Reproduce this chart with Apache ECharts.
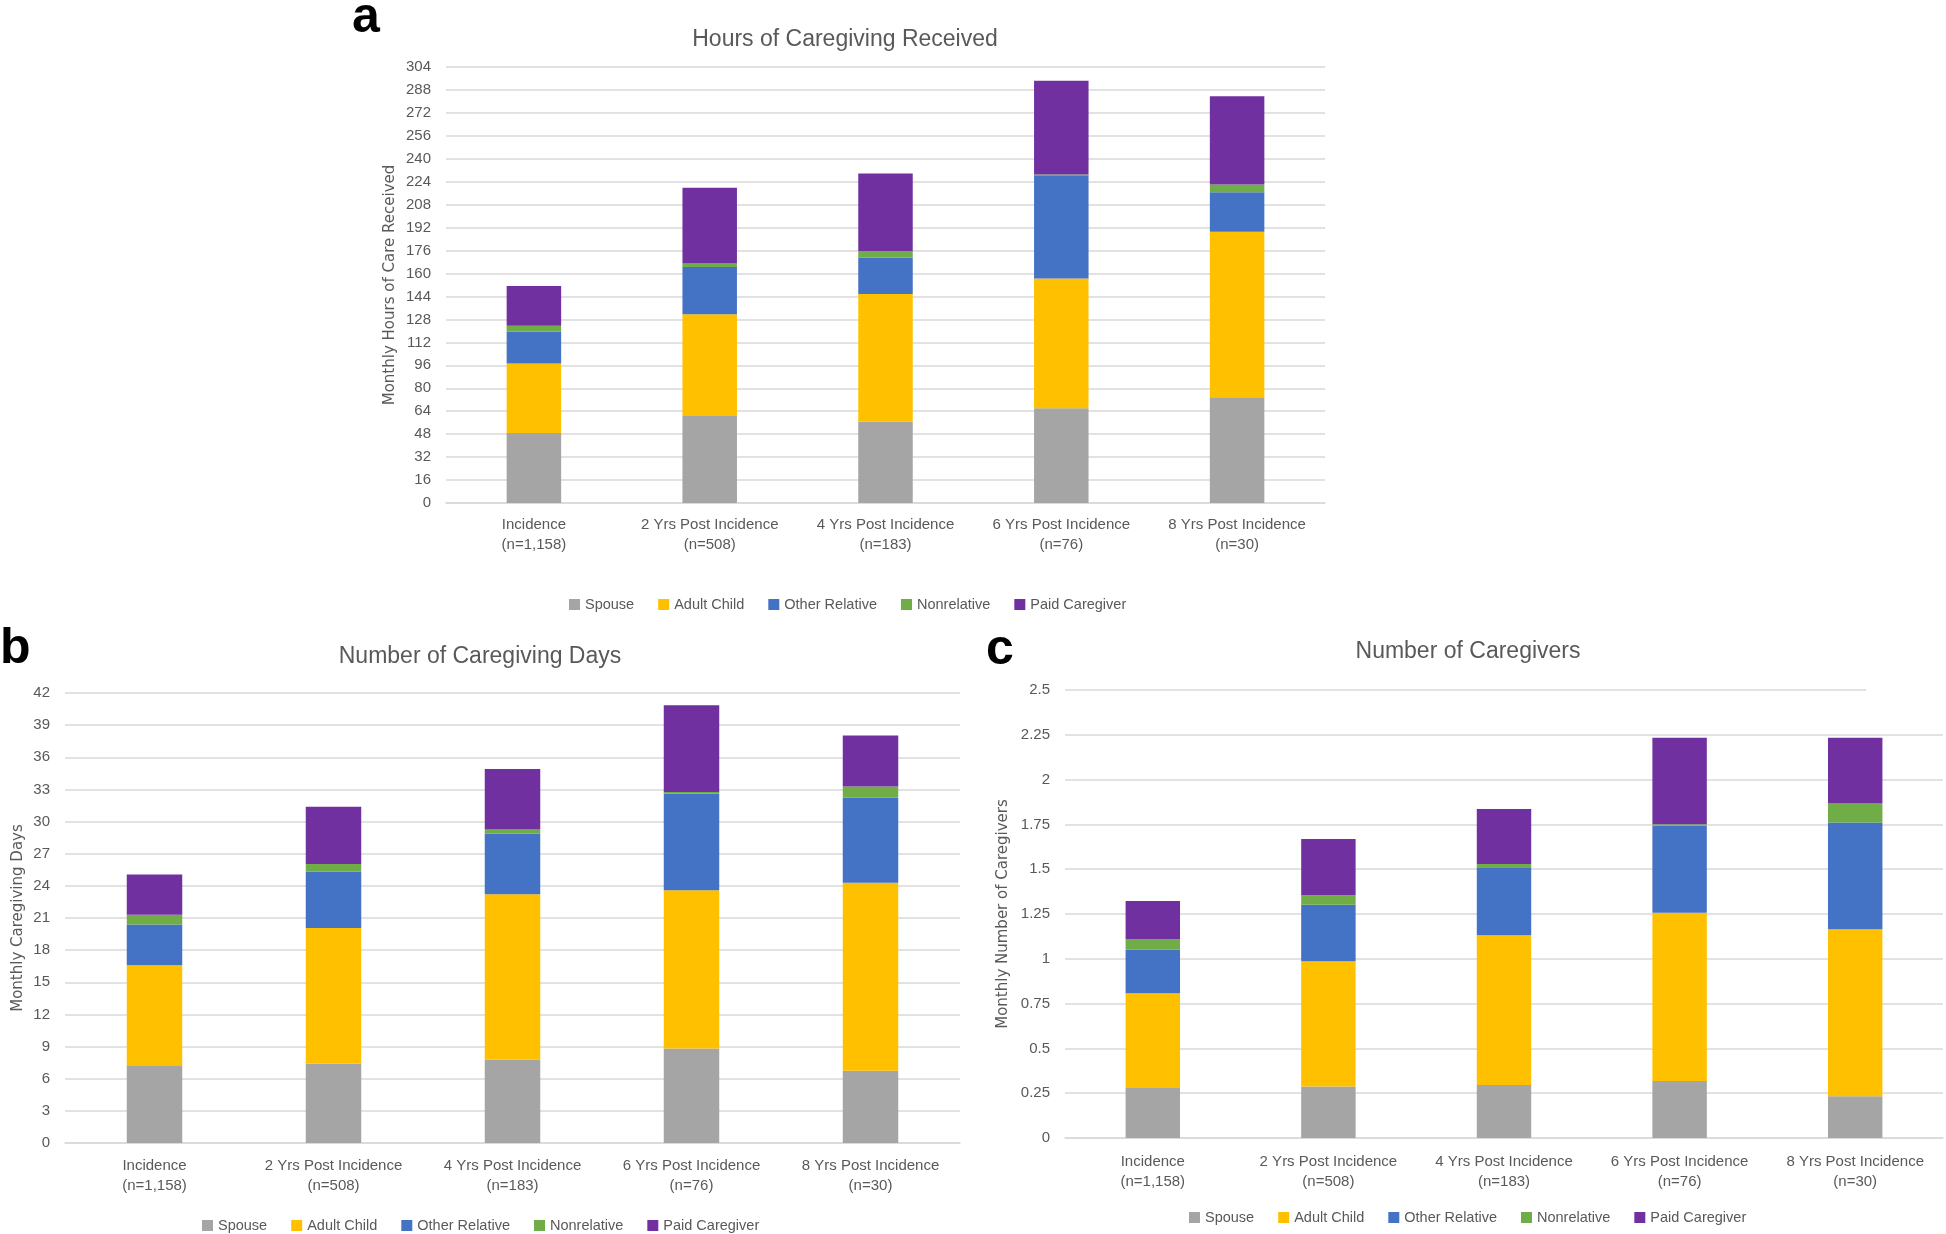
<!DOCTYPE html>
<html>
<head>
<meta charset="utf-8">
<script src="https://cdn.jsdelivr.net/npm/echarts@6/dist/echarts.min.js"></script>
<style>
  html, body { margin: 0; padding: 0; background: #fff; }
  #chart { width: 1946px; height: 1234px; }
</style>
</head>
<body>
<div id="chart"></div>
<script>
const categories = [
  'Incidence\n(n=1,158)',
  '2 Yrs Post Incidence\n(n=508)',
  '4 Yrs Post Incidence\n(n=183)',
  '6 Yrs Post Incidence\n(n=76)',
  '8 Yrs Post Incidence\n(n=30)'
];
const groups = ['Spouse', 'Adult Child', 'Other Relative', 'Nonrelative', 'Paid Caregiver'];
const colors = ['#A5A5A5', '#FFC000', '#4472C4', '#70AD47', '#7030A0'];

// a - monthly hours of care received
const hoursSpouse = [48.8, 60.6, 56.6, 66.0, 73.8];
const hoursAdultChild = [48.4, 71.0, 89.2, 90.5, 115.3];
const hoursOtherRel = [22.4, 32.9, 25.4, 72.0, 27.5];
const hoursNonrel = [4.0, 2.5, 4.5, 0.6, 5.4];
const hoursPaid = [27.7, 52.8, 54.1, 65.3, 61.6];

// b - monthly caregiving days
const daysSpouse = [7.25, 7.43, 7.76, 8.82, 6.74];
const daysAdultChild = [9.34, 12.64, 15.45, 14.76, 17.54];
const daysOtherRel = [3.81, 5.27, 5.68, 9.05, 7.94];
const daysNonrel = [0.91, 0.69, 0.37, 0.14, 1.06];
const daysPaid = [3.74, 5.35, 5.64, 8.09, 4.76];

// c - monthly number of caregivers
const giversSpouse = [0.279, 0.287, 0.296, 0.318, 0.233];
const giversAdultChild = [0.529, 0.699, 0.836, 0.939, 0.932];
const giversOtherRel = [0.242, 0.316, 0.379, 0.485, 0.595];
const giversNonrel = [0.061, 0.053, 0.018, 0.009, 0.106];
const giversPaid = [0.211, 0.313, 0.307, 0.483, 0.368];

const panels = [
  { data: [hoursSpouse, hoursAdultChild, hoursOtherRel, hoursNonrel, hoursPaid],
    max: 304, interval: 16, yName: 'Monthly Hours of Care Received', nameGap: 48, labelMargin: 12 },
  { data: [daysSpouse, daysAdultChild, daysOtherRel, daysNonrel, daysPaid],
    max: 42, interval: 3, yName: 'Monthly Caregiving Days', nameGap: 39, labelMargin: 13 },
  { data: [giversSpouse, giversAdultChild, giversOtherRel, giversNonrel, giversPaid],
    max: 2.5, interval: 0.25, yName: 'Monthly Number of Caregivers', nameGap: 54, labelMargin: 14 }
];

const FONT = 'Liberation Sans';
const TXT = '#595959';
const GRIDLINE = '#D9D9D9';

const chart = echarts.init(document.getElementById('chart'));

const grids = [
  { left: 446, top: 67, width: 879, height: 436 },
  { left: 65, top: 693, width: 895, height: 450 },
  { left: 1065, top: 690, width: 878, height: 448 }
];

const xAxes = panels.map((p, i) => ({
  type: 'category',
  gridIndex: i,
  data: categories,
  axisTick: { show: false },
  axisLine: { lineStyle: { color: GRIDLINE, width: 1.5 } },
  axisLabel: { color: TXT, fontFamily: FONT, fontSize: 15, lineHeight: 20, margin: p.labelMargin, interval: 0 }
}));

const yAxes = panels.map((p, i) => ({
  type: 'value',
  gridIndex: i,
  min: 0,
  max: p.max,
  interval: p.interval,
  name: p.yName,
  nameLocation: 'middle',
  nameRotate: 90,
  nameGap: p.nameGap,
  nameTextStyle: { color: TXT, fontFamily: 'DejaVu Sans', fontSize: 15 },
  axisLine: { show: false },
  axisTick: { show: false },
  axisLabel: { color: TXT, fontFamily: FONT, fontSize: 15, margin: 15 },
  splitLine: { showMaxLine: i !== 2, lineStyle: { color: GRIDLINE, width: 1.5 } }
}));

const series = [];
panels.forEach((p, i) => {
  p.data.forEach((vals, j) => {
    series.push({
      type: 'bar',
      name: groups[j],
      stack: 'panel' + i,
      xAxisIndex: i,
      yAxisIndex: i,
      barWidth: '31%',
      itemStyle: { color: colors[j] },
      data: vals
    });
  });
});

const legendBase = {
  data: groups,
  icon: 'rect',
  itemWidth: 11,
  itemHeight: 11,
  itemGap: 24,
  textStyle: { color: TXT, fontFamily: FONT, fontSize: 14.5 }
};

const legends = [
  Object.assign({}, legendBase, { left: 564, top: 592 }),
  Object.assign({}, legendBase, { left: 197, top: 1213 }),
  Object.assign({}, legendBase, { left: 1184, top: 1205 })
];

function label(text, x, y, size, bold, color, family) {
  return {
    type: 'text',
    x: x,
    y: y,
    style: {
      text: text,
      fill: color,
      font: (bold ? 'bold ' : '') + size + 'px "' + family + '"',
      textAlign: bold ? 'left' : 'center',
      textVerticalAlign: 'middle'
    }
  };
}

const graphics = [
  label('a', 352, 18, 50, true, '#000', FONT),
  label('b', 0, 649, 50, true, '#000', FONT),
  label('c', 986, 650, 50, true, '#000', FONT),
  label('Hours of Caregiving Received', 845, 40, 23, false, TXT, FONT),
  label('Number of Caregiving Days', 480, 657, 23, false, TXT, FONT),
  label('Number of Caregivers', 1468, 652, 23, false, TXT, FONT)
];

chart.setOption({
  animation: false,
  backgroundColor: '#fff',
  grid: grids,
  xAxis: xAxes,
  yAxis: yAxes,
  legend: legends,
  series: series,
  graphic: graphics
});

// top gridline of panel c stops short of the right edge in the original
const topY = chart.convertToPixel({ yAxisIndex: 2 }, 2.5);
const lastX = chart.convertToPixel({ xAxisIndex: 2 }, categories[4]);
graphics.push({
  type: 'line',
  shape: { x1: grids[2].left, y1: topY, x2: lastX + 11, y2: topY },
  style: { stroke: GRIDLINE, lineWidth: 1.5 },
  silent: true
});
chart.setOption({ graphic: graphics });
</script>
</body>
</html>
